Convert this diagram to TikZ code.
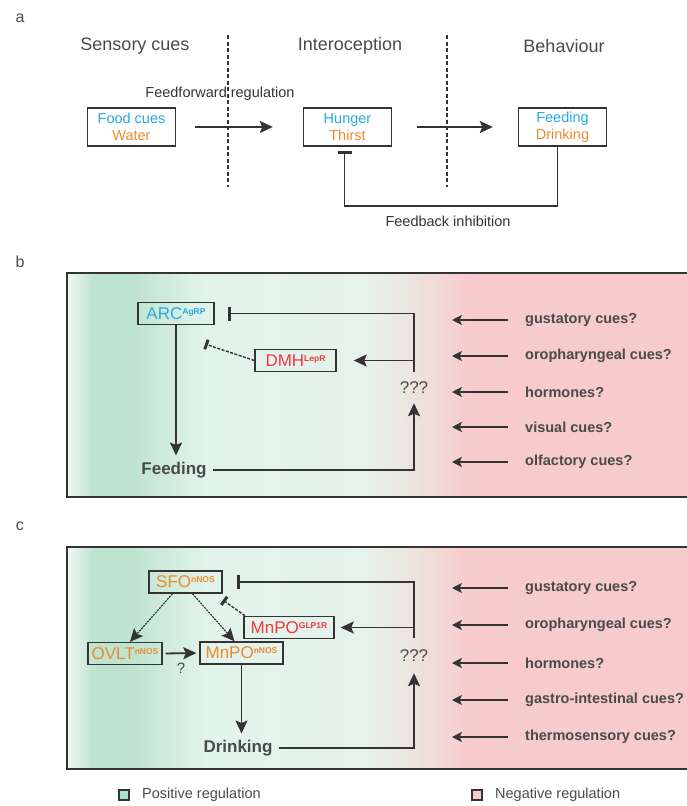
\documentclass[tikz,border=0pt]{standalone}
\usepackage{fontspec}
\setmainfont{Liberation Sans}
\usepackage{xcolor}
\usepackage{tikz}
\usetikzlibrary{arrows.meta}
\usetikzlibrary{positioning}

\definecolor{cuecyan}{HTML}{27AAE1}
\definecolor{cueorange}{HTML}{EC8A2E}
\definecolor{cuered}{HTML}{EE3A40}
\definecolor{inkgray}{HTML}{333333}
\definecolor{softgray}{HTML}{4A4A4A}
\definecolor{bgwhite}{HTML}{F2F9F5}
\definecolor{posgreen}{HTML}{BEE3CF}
\definecolor{palegreen}{HTML}{E2F3EB}
\definecolor{palegreenb}{HTML}{E6F2EC}
\definecolor{beige}{HTML}{EBE7DF}
\definecolor{rosy}{HTML}{F3D6D4}
\definecolor{negpink}{HTML}{F7CACC}
\definecolor{keygreen}{HTML}{A9E2C9}
\definecolor{keypink}{HTML}{F9CDD0}

\newcommand{\fsz}[1]{\fontsize{#1}{#1}\selectfont}
\newcommand{\sups}[1]{\raisebox{0.55ex}{\fontsize{8.5}{8.5}\selectfont\bfseries #1}}

\begin{document}
\begin{tikzpicture}[x=1pt,y=-1pt,
    tag/.style={font=\fsz{16}, text=softgray},
    header/.style={font=\fsz{18}, text=softgray},
    note/.style={font=\fsz{14.5}, text=inkgray},
    cuebox/.style={draw=inkgray, line width=1.4pt, minimum width=88pt, minimum height=38pt,
      inner sep=0pt, align=center, font=\fontsize{14.5}{16.5}\selectfont},
    cellbox/.style={draw=inkgray, line width=1.4pt, minimum height=22pt, inner sep=0pt, font=\fsz{17}},
    behav/.style={font=\fsz{17}\bfseries, text=softgray},
    qmark/.style={font=\fsz{17}, text=softgray, inner sep=0pt},
    cuetext/.style={anchor=west, inner sep=0pt, font=\fsz{14.5}\bfseries, text=softgray},
    link/.style={draw=inkgray, line width=1.8pt, -{Stealth[length=13pt,width=12pt,inset=2.5pt]}},
    dlink/.style={link, line width=1.2pt, dash pattern=on 2pt off 1pt},
    cue/.style={draw=inkgray, line width=1.5pt, -{Stealth[length=10pt,width=10pt,inset=2.5pt]}},
    block/.style={draw=inkgray, line width=1.8pt, -{Bar[width=14pt,line width=3.5pt]}},
    dblock/.style={draw=inkgray, line width=1.4pt, dash pattern=on 3pt off 1.5pt, -{Bar[width=10pt,line width=3pt]}},
    legkey/.style={draw=inkgray, line width=1.3pt, minimum size=10pt, inner sep=0pt},
    legtext/.style={anchor=west, inner sep=0pt, font=\fsz{14.5}, text=softgray}]
  \useasboundingbox (0,0) rectangle (687,806);

  % backgrounds of panels b and c
  \foreach \ya/\yb in {273/497, 547/769}{
    \foreach \xa/\xb/\ca/\cb in {67/93/bgwhite/posgreen, 93/130/posgreen/posgreen,
        130/205/posgreen/palegreen, 205/365/palegreen/palegreenb, 365/405/palegreenb/beige,
        405/445/beige/rosy, 445/470/rosy/negpink, 470/687/negpink/negpink}
      \shade[left color=\ca, right color=\cb] (\xa,\ya) rectangle ({\xb+0.6},\yb);
    \draw[inkgray, line width=1.6pt] (687,\ya) -- (67,\ya) -- (67,\yb) -- (687,\yb);
  }

  % panel a
  \node[tag] (taga) at (20,18) {a};
  \node[header] (hsens) at (135,46) {Sensory cues};
  \node[header] (hintero) at (350,46) {Interoception};
  \node[header] (hbehav) at (564,46) {Behaviour};
  \draw[inkgray, line width=1.3pt, dash pattern=on 4pt off 2.5pt] (228,35) -- (228,187);
  \draw[inkgray, line width=1.3pt, dash pattern=on 4pt off 2.5pt] (447,35) -- (447,187);

  \node[cuebox] (food) at (131.5,127) {\color{cuecyan}Food cues\\\color{cueorange}Water};
  \node[cuebox] (hunger) at (347.5,127) {\color{cuecyan}Hunger\\\color{cueorange}Thirst};
  \node[cuebox] (acting) at (562.5,127) {\color{cuecyan}Feeding\\\color{cueorange}Drinking};
  \node[note] (ffreg) at (220,94) {Feedforward regulation};
  \draw[link, shorten <=19pt, shorten >=30pt] (food) -- (hunger);
  \draw[link, shorten <=25pt, shorten >=25pt] (hunger) -- (acting);
  \draw[block] ([xshift=-5pt]acting.south) -- ++(0,59) -| ([xshift=-3pt,yshift=-4pt]hunger.south);
  \node[note] (fbinh) at (448,221) {Feedback inhibition};

  % panel b
  \node[tag] (tagb) at (20,262) {b};
  \node[cellbox, minimum width=76pt, text=cuecyan] (arc) at (176,313.5) {ARC\sups{AgRP}};
  \node[cellbox, minimum width=81pt, text=cuered] (dmh) at (295.5,360.5) {DMH\sups{LepR}};
  \node[qmark, minimum height=31pt] (qb) at (414,387.5) {???};
  \node[behav] (feed) at (174,470) {Feeding};
  \coordinate (arcbar) at (205,344);
  \draw[block] (qb.north) |- ([xshift=13pt]arc.east);
  \draw[link] (qb.north |- dmh.east) -- ([xshift=17pt]dmh.east);
  \draw[dblock] (dmh.west) -- (arcbar);
  \draw[link, shorten >=3pt] (arc.south) -- (arc.south |- feed.north);
  \draw[link, shorten <=3pt] (feed.east) -| (qb.south);
  \foreach \i/\y/\t in {1/320/gustatory cues?, 2/356/oropharyngeal cues?, 3/392/hormones?,
      4/427/visual cues?, 5/462/olfactory cues?}{
    \node[cuetext] (cb\i) at (525,\y) {\t};
    \draw[cue] ([xshift=-17pt]cb\i.west) -- ([xshift=-73pt]cb\i.west);
  }

  % panel c
  \node[tag] (tagc) at (20,526) {c};
  \node[cellbox, minimum width=73pt, text=cueorange] (sfo) at (185.5,582) {SFO\sups{nNOS}};
  \node[cellbox, minimum width=74pt, text=cueorange] (ovlt) at (125,653.5) {OVLT\sups{nNOS}};
  \node[cellbox, minimum width=83pt, text=cueorange] (mnpo) at (241.5,653) {MnPO\sups{nNOS}};
  \node[cellbox, minimum width=90pt, text=cuered] (glp) at (289,627.5) {MnPO\sups{GLP1R}};
  \node[qmark, minimum height=35pt] (qc) at (414,655.5) {???};
  \node[behav] (drink) at (238,748) {Drinking};
  \node[qmark, font=\fsz{15}] (ovq) at (181,668) {?};
  \coordinate (sfobar) at (223,600);
  \draw[block] (qc.north) |- ([xshift=14pt]sfo.east);
  \draw[link] (qc.north |- glp.east) -- ([xshift=6pt]glp.east);
  \draw[dblock] ([xshift=-44pt]glp.north) -- (sfobar);
  \draw[dlink] ([xshift=-13pt]sfo.south) -- ([xshift=5pt]ovlt.north);
  \draw[dlink] ([xshift=7pt]sfo.south) -- ([xshift=-7pt]mnpo.north);
  \draw[link, shorten <=3pt, shorten >=3pt] (ovlt.east) -- (mnpo.west);
  \draw[link, shorten >=3pt] (mnpo.south) -- (mnpo.south |- drink.north);
  \draw[link, shorten <=3pt] (drink.east) -| (qc.south);
  \foreach \i/\y/\t in {1/588/gustatory cues?, 2/625/oropharyngeal cues?, 3/663/hormones?,
      4/700/gastro-intestinal cues?, 5/737/thermosensory cues?}{
    \node[cuetext] (cc\i) at (525,\y) {\t};
    \draw[cue] ([xshift=-17pt]cc\i.west) -- ([xshift=-73pt]cc\i.west);
  }

  % legend
  \node[legkey, fill=keygreen] (kpos) at (124,795) {};
  \node[legtext] (lpos) at (142,795) {Positive regulation};
  \node[legkey, fill=keypink] (kneg) at (477,795) {};
  \node[legtext] (lneg) at (495,795) {Negative regulation};
\end{tikzpicture}
\end{document}
